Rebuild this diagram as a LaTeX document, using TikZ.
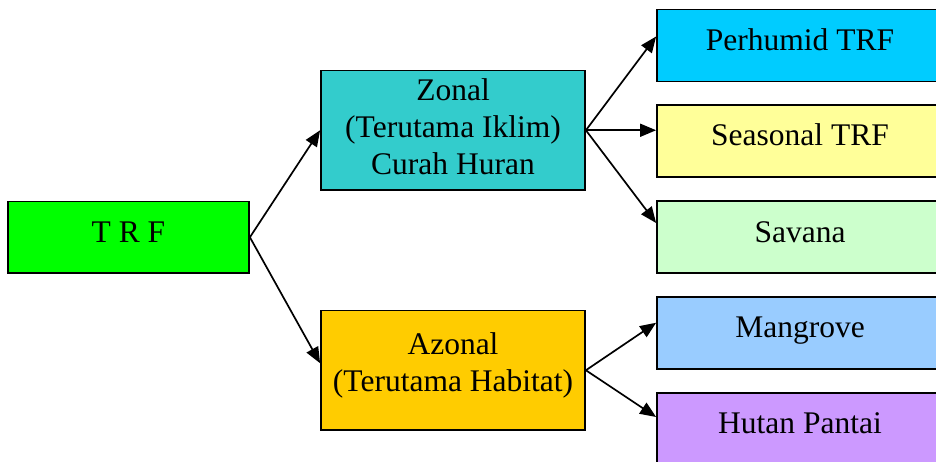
\documentclass[tikz,border=0pt]{standalone}
\usepackage{fontspec}
\setmainfont{Liberation Serif}
\usetikzlibrary{arrows.meta,positioning}
\definecolor{cTRF}{HTML}{00FF00}
\definecolor{cZonal}{HTML}{33CCCC}
\definecolor{cAzonal}{HTML}{FFCC00}
\definecolor{cPerhumid}{HTML}{00CCFF}
\definecolor{cSeasonal}{HTML}{FFFF99}
\definecolor{cSavana}{HTML}{CCFFCC}
\definecolor{cMangrove}{HTML}{99CCFF}
\definecolor{cHutan}{HTML}{CC99FF}
\tikzset{
  box/.style={draw=black, line width=1.8pt, rectangle, inner sep=0pt},
  txt/.style={anchor=base, inner sep=0pt, font=\fontsize{31.5}{37}\selectfont},
  conn/.style={line width=1.7pt, -{Triangle[length=16pt,width=13pt]}}
}
\begin{document}
\begin{tikzpicture}[x=1pt,y=-1pt]
\clip (0,0) rectangle (936,461);
\fill[white] (0,0) rectangle (936,461);
% boxes
\node[box, fill=cTRF, minimum width=241pt, minimum height=71.5pt] (trf) at (128.5,237.25) {};
\node[box, fill=cZonal, minimum width=264pt, minimum height=119.5pt] (zonal) at (453,130.25) {};
\node[box, fill=cAzonal, minimum width=264pt, minimum height=119.5pt] (azonal) at (453,370.25) {};
\node[box, fill=cPerhumid, minimum width=286pt, minimum height=72pt] (perhumid) at (800,45.5) {};
\node[box, fill=cSeasonal, minimum width=286pt, minimum height=72pt] (seasonal) at (800,141) {};
\node[box, fill=cSavana, minimum width=286pt, minimum height=72pt] (savana) at (800,237) {};
\node[box, fill=cMangrove, minimum width=286pt, minimum height=72pt] (mangrove) at (800,333.25) {};
\node[box, fill=cHutan, minimum width=286pt, minimum height=72pt] (hutan) at (800,429) {};
% texts
\node[txt] (ttrf) at (128.5,242.3) {T R F};
\node[txt] (tz1) at (453,100.3) {Zonal};
\node[txt] (tz2) at (453,137.3) {(Terutama Iklim)};
\node[txt] (tz3) at (453,174.2) {Curah Huran};
\node[txt] (ta1) at (453,354.7) {Azonal};
\node[txt] (ta2) at (453,391.5) {(Terutama Habitat)};
\node[txt] (tp) at (800,50) {Perhumid TRF};
\node[txt] (ts) at (800,145.5) {Seasonal TRF};
\node[txt] (tsv) at (800,242.5) {Savana};
\node[txt] (tm) at (800,337.7) {Mangrove};
\node[txt] (th) at (800,433.5) {Hutan Pantai};
% connectors
\draw[conn] (trf.east) -- (zonal.west);
\draw[conn] (trf.east) -- ([yshift=7pt]azonal.west);
\draw[conn] (zonal.east) -- ([yshift=9pt]perhumid.west);
\draw[conn] (zonal.east) -- (seasonal.west |- zonal.east);
\draw[conn] (zonal.east) -- ([yshift=14pt]savana.west);
\draw[conn] (azonal.east) -- ([yshift=10.5pt]mangrove.west);
\draw[conn] (azonal.east) -- ([yshift=12pt]hutan.west);
\end{tikzpicture}
\end{document}
